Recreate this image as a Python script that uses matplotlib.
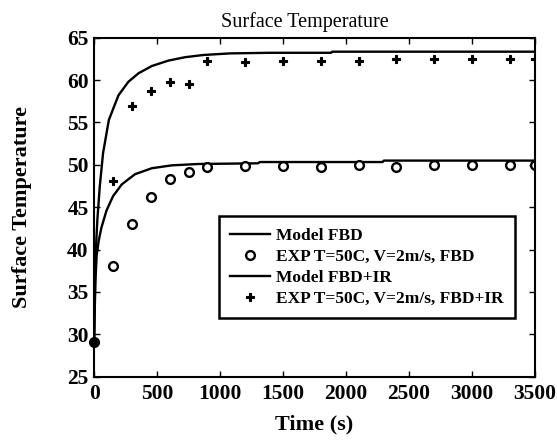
import matplotlib
matplotlib.use('Agg')
import matplotlib.pyplot as plt

plt.rcParams['font.family'] = ['Liberation Serif', 'DejaVu Serif']

# experimental points (s, deg C)
t_exp = [150, 300, 450, 600, 750, 900, 1200, 1500, 1800, 2100, 2400, 2700, 3000, 3300, 3500]
T_exp_fbd = [38.1, 43.0, 46.2, 48.3, 49.1, 49.7, 49.9, 49.9, 49.8, 50.0, 49.8, 50.0, 50.0, 50.0, 50.0]
T_exp_ir = [48.1, 57.0, 58.7, 59.8, 59.5, 62.2, 62.1, 62.3, 62.3, 62.3, 62.5, 62.5, 62.5, 62.5, 62.5]

# model curves
t_fbd = [0, 5, 10, 20, 37, 58, 98, 150, 220, 325, 458, 617, 828, 1300, 1317, 2290, 2300, 3500]
T_fbd = [29.1, 33.0, 36.3, 39.3, 41.1, 42.6, 44.6, 46.3, 47.7, 48.9, 49.6, 49.94, 50.1, 50.18, 50.33, 50.33, 50.5, 50.5]
t_ir = [0, 5, 10, 18, 26, 45, 71, 117, 193, 272, 352, 458, 590, 722, 868, 1080, 1400, 1880, 1890, 3500]
T_ir = [29.1, 34.0, 38.0, 41.3, 43.6, 47.5, 51.4, 55.3, 58.2, 59.8, 60.8, 61.66, 62.3, 62.7, 62.96, 63.15, 63.22, 63.22, 63.35, 63.35]

t0, T0 = [0], [29.1]

fig = plt.figure(figsize=(5.57, 4.42), dpi=100)
ax = fig.add_axes([0.169, 0.1477, 0.7915, 0.767])

ax.plot(t_fbd, T_fbd, color='black', lw=1.7, label='Model FBD')
ax.plot(t_exp, T_exp_fbd, 'o', mfc='white', mec='black', mew=1.7, ms=6.3,
        label='EXP T=50C, V=2m/s, FBD')
ax.plot(t_ir, T_ir, color='black', lw=1.7, label='Model FBD+IR')
ax.plot(t_exp, T_exp_ir, 'P', color='black', ms=5.2, mew=0.8,
        label='EXP T=50C, V=2m/s, FBD+IR')
ax.plot(t0, T0, 'o', color='black', ms=7, clip_on=False, zorder=5)

ax.set_xlim(0, 3500)
ax.set_ylim(25, 65)
ax.set_xticks(range(0, 3501, 500))
ax.set_yticks(range(25, 66, 5))
ax.tick_params(direction='in', top=True, right=True, length=4, width=1,
               labelsize=15.5)
ax.tick_params(axis='x', pad=5)
ax.tick_params(axis='y', pad=4)
for lab in ax.get_xticklabels() + ax.get_yticklabels():
    lab.set_fontweight('bold')
for s in ax.spines.values():
    s.set_linewidth(1.5)

ax.set_title('Surface Temperature', fontsize=14.5, pad=8, x=0.477)
ax.set_xlabel('Time (s)', fontsize=16, fontweight='bold', labelpad=8)
ax.set_ylabel('Surface Temperature', fontsize=16, fontweight='bold', labelpad=25)

leg = ax.legend(loc='lower right', bbox_to_anchor=(0.955, 0.173),
                borderaxespad=0, fancybox=False, edgecolor='black', framealpha=1,
                prop={'weight': 'bold', 'size': 12.5}, handlelength=2.3,
                labelspacing=0.28, borderpad=0.65, handletextpad=0.35)
leg.get_frame().set_linewidth(1.8)

fig.savefig('out.png', dpi=100)
